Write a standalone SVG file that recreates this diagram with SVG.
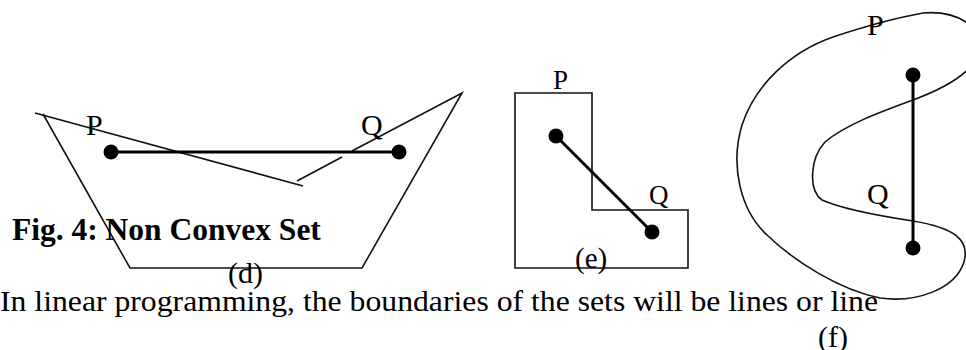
<svg xmlns="http://www.w3.org/2000/svg" width="966" height="350" viewBox="0 0 966 350">
<style>
.shape{fill:none;stroke:#111;stroke-width:1.6;stroke-linejoin:miter}
.seg{stroke:#000;stroke-width:3}
.dot{fill:#000}
.lbl{font-family:"Liberation Serif","Times New Roman",serif;font-size:30px;fill:#000}
.cap{font-family:"Liberation Serif","Times New Roman",serif;font-size:31.5px;font-weight:bold;fill:#000}
</style>
<rect width="966" height="350" fill="#fff"/>
<g id="fig-d">
<line class="shape" x1="35" y1="113" x2="303" y2="186"/>
<polyline class="shape" points="43,114 130,268 362,268 462,93 352,151"/>
<line class="shape" x1="342" y1="157" x2="297" y2="181"/>
<line class="seg" x1="111" y1="152" x2="399" y2="152"/>
<circle class="dot" cx="111" cy="152" r="7.5"/>
<circle class="dot" cx="399" cy="152" r="7.5"/>
<text class="lbl" x="86" y="135">P</text>
<text class="lbl" x="361" y="135">Q</text>
<text class="lbl" x="228" y="283">(d)</text>
</g>
<g id="fig-e">
<polygon class="shape" points="515,93 592,93 592,210 688,210 688,268 515,268"/>
<line class="seg" x1="556" y1="136" x2="652" y2="232"/>
<circle class="dot" cx="556" cy="136" r="7.5"/>
<circle class="dot" cx="652" cy="232" r="7.5"/>
<text class="lbl" x="553" y="89" style="font-size:27px">P</text>
<text class="lbl" x="649" y="204" style="font-size:27px">Q</text>
<text class="lbl" x="575" y="268" style="font-size:29px">(e)</text>
</g>
<g id="fig-f">
<path class="shape" d="M923,13 C895,18 860,28 833,37 C790,52 755,85 742,125 C730,165 740,210 767,235 C795,262 840,290 880,298 C915,303 955,290 964,262 C970,240 955,228 913,221 C880,216 840,208 822,200 C808,190 810,158 825,142 C845,125 880,112 913,100 C945,88 975,72 980,50 C985,30 960,10 923,13 Z"/>
<line class="seg" x1="913" y1="75" x2="913" y2="248"/>
<circle class="dot" cx="913" cy="75" r="7.5"/>
<circle class="dot" cx="913" cy="248" r="7.5"/>
<text class="lbl" x="867" y="35">P</text>
<text class="lbl" x="867" y="204">Q</text>
<text class="lbl" x="818" y="347">(f)</text>
</g>
<text class="cap" x="12" y="240">Fig. 4: Non Convex Set</text>
<text class="lbl" x="0" y="311" textLength="878" lengthAdjust="spacingAndGlyphs">In linear programming, the boundaries of the sets will be lines or line</text>
</svg>
